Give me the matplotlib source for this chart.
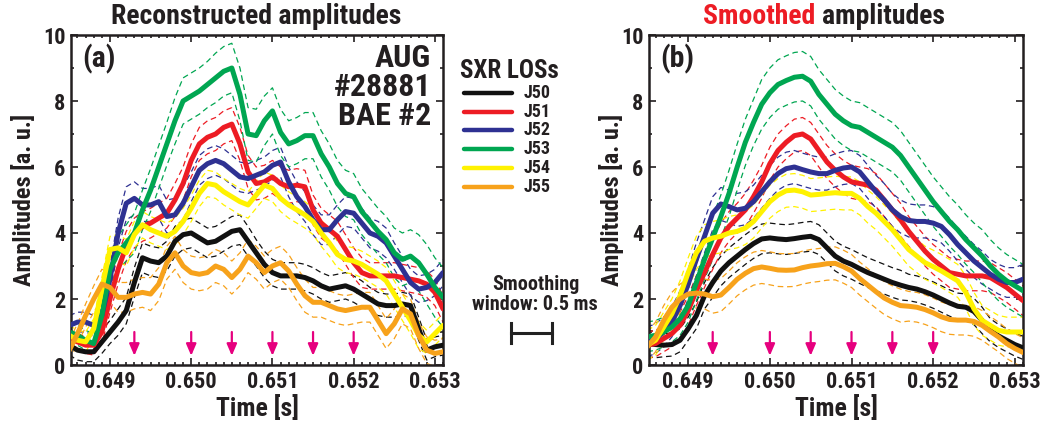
import numpy as np
import matplotlib
matplotlib.use("Agg")
import matplotlib.pyplot as plt
from matplotlib import font_manager
from matplotlib.lines import Line2D

# ---------------- data ----------------
time = np.round(0.6485 + 0.0001 * np.arange(47), 4)   # s, 0.6485 ... 0.6531

channels = ["J50", "J51", "J52", "J53", "J54", "J55"]
colors = ["#111111", "#ed1c24", "#2e3192", "#00a651", "#fff200", "#f7a21b"]

# reconstructed amplitudes (a)
J50_rec = [0.6, 0.45, 0.4, 0.4, 0.7, 1.0, 1.3, 1.65, 2.5, 3.25, 3.15, 3.1, 3.3, 3.75, 3.95, 4.0,
           3.85, 3.7, 3.75, 3.9, 4.05, 4.1, 3.75, 3.4, 3.05, 2.8, 2.7, 2.7, 2.7, 2.65, 2.55, 2.4,
           2.3, 2.35, 2.4, 2.3, 2.15, 2.0, 1.85, 1.8, 1.8, 1.85, 1.8, 1.1, 0.45, 0.55, 0.6]
J51_rec = [0.8, 0.7, 0.6, 0.6, 1.0, 2.0, 2.9, 3.6, 4.0, 4.2, 4.3, 4.45, 4.6, 5.0, 5.5, 6.2,
           6.7, 6.9, 7.0, 7.2, 7.3, 6.7, 5.85, 5.5, 5.55, 5.7, 5.5, 5.4, 5.45, 5.4, 4.7, 4.3,
           4.1, 3.9, 3.5, 3.1, 2.8, 2.7, 2.7, 2.7, 2.7, 2.65, 2.6, 2.55, 2.45, 2.2, 1.7]
J52_rec = [1.2, 1.3, 1.3, 1.2, 1.5, 2.6, 4.0, 4.9, 5.05, 4.85, 4.85, 4.95, 4.5, 4.55, 4.9, 5.4,
           5.9, 6.1, 6.2, 6.1, 5.9, 5.7, 5.65, 5.75, 5.85, 6.05, 6.15, 5.55, 5.1, 4.8, 4.4, 4.1,
           4.1, 4.4, 4.65, 4.6, 4.3, 4.0, 3.9, 3.7, 3.3, 2.9, 2.5, 2.3, 2.35, 2.5, 2.8]
J53_rec = [1.0, 0.9, 0.75, 0.65, 1.5, 2.9, 3.4, 3.7, 4.0, 4.7, 5.3, 6.0, 6.7, 7.4, 8.0, 8.15,
           8.3, 8.5, 8.7, 8.9, 9.0, 8.2, 7.0, 6.95, 7.4, 7.7, 7.05, 6.7, 6.8, 6.95, 6.95, 6.4,
           6.0, 5.5, 5.2, 5.1, 4.65, 4.35, 4.05, 3.8, 3.4, 3.2, 3.3, 3.1, 2.75, 2.35, 2.05]
J54_rec = [0.9, 0.75, 0.7, 1.1, 2.3, 3.5, 3.55, 3.4, 3.95, 4.25, 4.1, 4.0, 3.9, 4.05, 4.35, 4.75,
           5.2, 5.5, 5.45, 5.25, 5.1, 4.95, 4.85, 5.15, 5.45, 5.35, 5.05, 4.85, 4.7, 4.55, 4.35, 4.0,
           3.7, 3.35, 3.2, 3.15, 3.05, 2.9, 2.75, 2.55, 2.15, 1.75, 1.35, 0.9, 0.7, 0.95, 1.2]
J55_rec = [0.45, 0.95, 1.5, 2.0, 2.45, 2.35, 2.05, 2.05, 2.15, 2.2, 2.15, 2.45, 3.1, 3.4, 3.0, 2.8,
           2.75, 2.8, 3.0, 2.9, 2.65, 2.9, 3.3, 3.1, 2.8, 3.0, 3.1, 2.85, 2.45, 2.1, 1.9, 1.9,
           1.8, 1.7, 1.65, 1.7, 1.75, 1.75, 1.35, 0.95, 1.25, 1.7, 1.55, 0.9, 0.45, 0.35, 0.4]

# half-width of the dashed uncertainty band (a)
J50_rec_err = [0.3, 0.3, 0.3, 0.3, 0.35, 0.35, 0.4, 0.4, 0.45, 0.45, 0.45, 0.45, 0.45, 0.45, 0.45, 0.45,
               0.45, 0.45, 0.45, 0.45, 0.45, 0.45, 0.45, 0.4, 0.4, 0.4, 0.4, 0.4, 0.4, 0.4, 0.4, 0.4,
               0.4, 0.4, 0.4, 0.4, 0.4, 0.35, 0.35, 0.35, 0.35, 0.35, 0.35, 0.35, 0.3, 0.3, 0.3]
J51_rec_err = [0.25, 0.25, 0.25, 0.3, 0.35, 0.4, 0.45, 0.45, 0.45, 0.45, 0.45, 0.45, 0.45, 0.5, 0.5, 0.5,
               0.5, 0.5, 0.5, 0.5, 0.5, 0.5, 0.5, 0.5, 0.5, 0.5, 0.5, 0.5, 0.5, 0.5, 0.45, 0.45,
               0.45, 0.45, 0.45, 0.45, 0.45, 0.4, 0.4, 0.4, 0.4, 0.4, 0.4, 0.4, 0.4, 0.4, 0.4]
J52_rec_err = [0.3, 0.3, 0.3, 0.3, 0.35, 0.4, 0.45, 0.5, 0.5, 0.5, 0.5, 0.5, 0.5, 0.5, 0.5, 0.45,
               0.45, 0.45, 0.45, 0.45, 0.45, 0.45, 0.45, 0.45, 0.45, 0.45, 0.45, 0.45, 0.45, 0.45, 0.45, 0.45,
               0.45, 0.45, 0.45, 0.45, 0.45, 0.45, 0.45, 0.45, 0.4, 0.4, 0.4, 0.4, 0.4, 0.4, 0.4]
J53_rec_err = [0.3, 0.3, 0.3, 0.3, 0.35, 0.45, 0.5, 0.55, 0.6, 0.6, 0.65, 0.65, 0.65, 0.7, 0.7, 0.7,
               0.7, 0.7, 0.75, 0.75, 0.75, 0.8, 0.8, 0.8, 0.75, 0.7, 0.7, 0.7, 0.7, 0.7, 0.7, 0.7,
               0.7, 0.7, 0.7, 0.7, 0.7, 0.7, 0.7, 0.7, 0.75, 0.8, 0.8, 0.85, 0.9, 0.9, 0.9]
J54_rec_err = [0.3, 0.3, 0.3, 0.3, 0.35, 0.4, 0.4, 0.4, 0.4, 0.4, 0.4, 0.4, 0.4, 0.4, 0.4, 0.4,
               0.4, 0.4, 0.4, 0.4, 0.4, 0.4, 0.4, 0.4, 0.4, 0.4, 0.4, 0.4, 0.4, 0.4, 0.4, 0.4,
               0.4, 0.4, 0.4, 0.4, 0.4, 0.4, 0.4, 0.4, 0.4, 0.4, 0.4, 0.4, 0.35, 0.35, 0.35]
J55_rec_err = [0.3, 0.3, 0.35, 0.4, 0.45, 0.45, 0.45, 0.45, 0.45, 0.45, 0.5, 0.5, 0.5, 0.5, 0.5, 0.5,
               0.5, 0.5, 0.5, 0.5, 0.5, 0.5, 0.5, 0.5, 0.5, 0.5, 0.5, 0.5, 0.5, 0.5, 0.45, 0.45,
               0.45, 0.45, 0.45, 0.45, 0.45, 0.45, 0.45, 0.45, 0.45, 0.45, 0.45, 0.4, 0.4, 0.4, 0.4]

# smoothed amplitudes (b)
J50_smo = [0.65, 0.62, 0.6, 0.62, 0.75, 1.1, 1.5, 2.1, 2.5, 2.85, 3.1, 3.3, 3.5, 3.68, 3.82, 3.85,
           3.82, 3.8, 3.83, 3.87, 3.9, 3.8, 3.55, 3.3, 3.15, 3.05, 2.92, 2.8, 2.7, 2.6, 2.5, 2.42,
           2.35, 2.3, 2.22, 2.12, 2.0, 1.88, 1.78, 1.75, 1.62, 1.35, 1.05, 0.88, 0.75, 0.62, 0.52]
J51_smo = [0.6, 0.65, 0.8, 0.95, 1.2, 1.65, 2.25, 2.8, 3.35, 3.85, 4.2, 4.45, 4.7, 5.1, 5.55, 6.1,
           6.5, 6.75, 6.95, 7.0, 6.85, 6.5, 6.15, 5.9, 5.7, 5.55, 5.5, 5.45, 5.3, 5.0, 4.7, 4.4,
           4.05, 3.75, 3.45, 3.2, 3.0, 2.8, 2.75, 2.7, 2.7, 2.7, 2.65, 2.5, 2.35, 2.15, 1.95]
J52_smo = [0.7, 0.8, 1.0, 1.3, 1.8, 2.45, 3.2, 3.9, 4.6, 4.88, 4.8, 4.7, 4.75, 4.95, 5.25, 5.55,
           5.8, 5.95, 6.0, 5.92, 5.85, 5.8, 5.8, 5.9, 5.97, 6.0, 5.85, 5.55, 5.25, 5.0, 4.7, 4.5,
           4.38, 4.35, 4.35, 4.3, 4.2, 3.95, 3.65, 3.4, 3.15, 2.95, 2.75, 2.6, 2.5, 2.5, 2.6]
J53_smo = [0.85, 0.9, 1.0, 1.15, 1.4, 1.8, 2.5, 3.2, 3.85, 4.5, 5.2, 6.0, 6.75, 7.35, 7.9, 8.25,
           8.5, 8.62, 8.72, 8.75, 8.6, 8.2, 7.9, 7.6, 7.4, 7.25, 7.2, 7.05, 6.9, 6.75, 6.6, 6.35,
           6.0, 5.65, 5.3, 4.95, 4.65, 4.35, 4.1, 3.8, 3.55, 3.3, 3.0, 2.75, 2.55, 2.4, 2.25]
J54_smo = [0.6, 0.75, 1.15, 1.55, 2.1, 2.8, 3.4, 3.75, 3.85, 3.9, 4.0, 4.05, 4.15, 4.35, 4.65, 4.95,
           5.15, 5.28, 5.3, 5.25, 5.15, 5.17, 5.2, 5.22, 5.2, 5.2, 5.05, 4.8, 4.6, 4.35, 4.1, 3.8,
           3.5, 3.3, 3.1, 2.98, 2.85, 2.7, 2.55, 2.2, 1.7, 1.35, 1.2, 1.05, 1.0, 1.0, 1.0]
J55_smo = [0.55, 0.85, 1.35, 1.75, 2.0, 2.15, 2.18, 2.15, 2.07, 2.12, 2.35, 2.6, 2.78, 2.92, 2.97, 2.93,
           2.88, 2.87, 2.88, 2.95, 3.0, 3.03, 3.07, 3.08, 2.98, 2.85, 2.62, 2.42, 2.22, 2.03, 1.9, 1.8,
           1.78, 1.75, 1.68, 1.58, 1.46, 1.38, 1.36, 1.36, 1.32, 1.2, 1.02, 0.85, 0.65, 0.5, 0.38]

J50_smo_err = [0.4, 0.4, 0.35, 0.35, 0.35, 0.35, 0.4, 0.4, 0.45, 0.45, 0.45, 0.45, 0.45, 0.45, 0.45, 0.45,
               0.45, 0.45, 0.45, 0.45, 0.45, 0.45, 0.45, 0.45, 0.45, 0.45, 0.45, 0.45, 0.45, 0.45, 0.45, 0.45,
               0.4, 0.4, 0.4, 0.4, 0.4, 0.4, 0.4, 0.4, 0.4, 0.4, 0.35, 0.35, 0.35, 0.35, 0.35]
J51_smo_err = [0.4, 0.4, 0.4, 0.4, 0.4, 0.45, 0.45, 0.45, 0.45, 0.45, 0.45, 0.45, 0.5, 0.5, 0.5, 0.5,
               0.5, 0.5, 0.5, 0.5, 0.5, 0.5, 0.5, 0.5, 0.5, 0.5, 0.5, 0.5, 0.5, 0.5, 0.5, 0.5,
               0.45, 0.45, 0.45, 0.45, 0.45, 0.45, 0.45, 0.45, 0.45, 0.45, 0.45, 0.45, 0.45, 0.45, 0.45]
J52_smo_err = [0.45, 0.45, 0.45, 0.45, 0.45, 0.45, 0.5, 0.5, 0.5, 0.5, 0.5, 0.5, 0.5, 0.5, 0.5, 0.5,
               0.5, 0.5, 0.5, 0.5, 0.5, 0.5, 0.5, 0.5, 0.5, 0.5, 0.5, 0.5, 0.5, 0.5, 0.5, 0.5,
               0.5, 0.5, 0.5, 0.5, 0.5, 0.5, 0.5, 0.5, 0.5, 0.5, 0.45, 0.45, 0.45, 0.45, 0.45]
J53_smo_err = [0.45, 0.45, 0.45, 0.45, 0.5, 0.5, 0.55, 0.6, 0.65, 0.65, 0.7, 0.7, 0.7, 0.7, 0.75, 0.75,
               0.75, 0.75, 0.75, 0.75, 0.75, 0.75, 0.75, 0.75, 0.75, 0.75, 0.75, 0.75, 0.75, 0.75, 0.75, 0.75,
               0.75, 0.75, 0.75, 0.75, 0.75, 0.75, 0.75, 0.75, 0.75, 0.8, 0.8, 0.8, 0.8, 0.8, 0.8]
J54_smo_err = [0.45, 0.45, 0.45, 0.45, 0.45, 0.45, 0.5, 0.5, 0.5, 0.5, 0.5, 0.5, 0.5, 0.5, 0.5, 0.5,
               0.5, 0.5, 0.5, 0.5, 0.5, 0.5, 0.5, 0.5, 0.5, 0.5, 0.5, 0.5, 0.5, 0.5, 0.5, 0.5,
               0.5, 0.5, 0.5, 0.5, 0.5, 0.5, 0.5, 0.5, 0.5, 0.45, 0.45, 0.45, 0.45, 0.45, 0.45]
J55_smo_err = [0.45, 0.45, 0.45, 0.45, 0.45, 0.45, 0.45, 0.45, 0.5, 0.5, 0.5, 0.5, 0.5, 0.5, 0.5, 0.5,
               0.5, 0.5, 0.5, 0.5, 0.5, 0.5, 0.5, 0.5, 0.5, 0.5, 0.5, 0.5, 0.5, 0.5, 0.5, 0.5,
               0.45, 0.45, 0.45, 0.45, 0.45, 0.45, 0.45, 0.45, 0.45, 0.45, 0.45, 0.45, 0.45, 0.45, 0.45]

rec = [J50_rec, J51_rec, J52_rec, J53_rec, J54_rec, J55_rec]
rec_err = [J50_rec_err, J51_rec_err, J52_rec_err, J53_rec_err, J54_rec_err, J55_rec_err]
smo = [J50_smo, J51_smo, J52_smo, J53_smo, J54_smo, J55_smo]
smo_err = [J50_smo_err, J51_smo_err, J52_smo_err, J53_smo_err, J54_smo_err, J55_smo_err]

arrow_times = [0.6493, 0.6500, 0.6505, 0.6510, 0.6515, 0.6520]
smoothing_window = 0.0005  # s
x_ticks = [0.649, 0.650, 0.651, 0.652, 0.653]
x_ticklabels = ["0.649", "0.650", "0.651", "0.652", "0.653"]
y_ticks = [0, 2, 4, 6, 8, 10]

# ---------------- style ----------------
avail = {f.name for f in font_manager.fontManager.ttflist}
FONT = "DejaVu Sans"
for cand in ["Liberation Sans Narrow", "Roboto Condensed", "Open Sans Condensed", "Liberation Sans"]:
    if cand in avail:
        FONT = cand
        break
plt.rcParams["font.family"] = [FONT, "DejaVu Sans"]
plt.rcParams["font.weight"] = "bold"

W, H = 1048, 429
fig = plt.figure(figsize=(W / 100, H / 100), dpi=100)

def fx(px):
    return px / W

def fy(py):
    return 1 - py / H

axL = fig.add_axes([fx(71), fy(365), 372 / W, 330 / H])
axR = fig.add_axes([fx(649), fy(365), 374 / W, 330 / H])

ARROW_C = "#e6007e"
TXT = "#231f20"

for ax, data, errs in [(axL, rec, rec_err), (axR, smo, smo_err)]:
    for vals, err, c in zip(data, errs, colors):
        v = np.array(vals)
        e = np.array(err)
        for sgn in (1, -1):
            ax.plot(time, v + sgn * e, color=c, lw=0.9, ls=(0, (4.5, 3)), zorder=2)
    for vals, c in zip(data, colors):
        ax.plot(time, vals, color=c, lw=3.6, solid_capstyle="round",
                solid_joinstyle="round", zorder=3)
    for t in arrow_times:
        ax.annotate("", xy=(t, 0.28), xytext=(t, 1.0),
                    arrowprops=dict(arrowstyle="-|>,head_width=0.3,head_length=0.7",
                                    color=ARROW_C, lw=1.6, shrinkA=0, shrinkB=0), zorder=4)
    ax.set_xlim(0.64852, 0.65305)
    ax.set_ylim(0, 10)
    ax.set_xticks(x_ticks)
    ax.set_xticklabels(x_ticklabels)
    ax.set_xticks(np.round(np.arange(0.6486, 0.6531, 0.0001), 4), minor=True)
    ax.set_yticks(y_ticks)
    ax.set_yticks(range(0, 11), minor=True)
    ax.tick_params(which="both", direction="in", top=True, right=True, width=1.2,
                   colors=TXT, labelcolor=TXT)
    ax.tick_params(which="major", length=5, labelsize=16, pad=4)
    ax.tick_params(which="minor", length=2.5)
    for lab in ax.get_xticklabels() + ax.get_yticklabels():
        lab.set_fontweight("bold")
    for sp in ax.spines.values():
        sp.set_linewidth(1.8)
        sp.set_color(TXT)
    ax.set_xlabel("Time [s]", fontsize=18.5, fontweight="bold", labelpad=2, color=TXT)
    ax.set_ylabel("Amplitudes [a. u.]", fontsize=17.5, fontweight="bold", color=TXT)

axL.yaxis.set_label_coords(-0.094, 0.5)
axR.yaxis.set_label_coords(-0.067, 0.5)

# panel labels
fig.text(fx(82), fy(59), "(a)", fontsize=21.5, fontweight="bold", va="center", color=TXT)
fig.text(fx(660), fy(59), "(b)", fontsize=21.5, fontweight="bold", va="center", color=TXT)
for i, s in enumerate(["AUG", "#28881", "BAE #2"]):
    fig.text(fx(431), fy(58 + 29 * i), s, fontsize=23, fontweight="bold", ha="right",
             va="center", color=TXT)

# titles
fig.text(fx(256), fy(17), "Reconstructed amplitudes", fontsize=20, fontweight="bold",
         ha="center", va="center", color=TXT)
t1 = fig.text(fx(703), fy(17), "Smoothed", fontsize=20, fontweight="bold", color="#ed1c24",
              ha="left", va="center")
fig.canvas.draw()
bb = t1.get_window_extent()
fig.text(bb.x1 / W + fx(7), fy(17), "amplitudes", fontsize=20, fontweight="bold",
         ha="left", va="center", color=TXT)

# legend
fig.text(fx(509), fy(71), "SXR LOSs", fontsize=18, fontweight="bold", ha="center",
         va="center", color=TXT)
for i, (name, c) in enumerate(zip(channels, colors)):
    y = fy(93 + 18.7 * i)
    fig.add_artist(Line2D([fx(464), fx(512)], [y, y], color=c, lw=3.2, solid_capstyle="round"))
    fig.text(fx(524), y, name, fontsize=13, fontweight="bold", ha="left", va="center", color=TXT)

# smoothing window scale bar (in data units of panel a)
fig.text(fx(536), fy(284), "Smoothing", fontsize=14.5, fontweight="bold", ha="center",
         va="center", color=TXT)
fig.text(fx(535), fy(305), "window: 0.5 ms", fontsize=14.5, fontweight="bold", ha="center",
         va="center", color=TXT)
x0 = 0.65394
axL.plot([x0, x0 + smoothing_window], [0.97, 0.97], color="#222222", lw=2.2, clip_on=False)
for xe in (x0, x0 + smoothing_window):
    axL.plot([xe, xe], [0.68, 1.26], color="#222222", lw=2.2, clip_on=False)

fig.savefig("out.png", dpi=100)
